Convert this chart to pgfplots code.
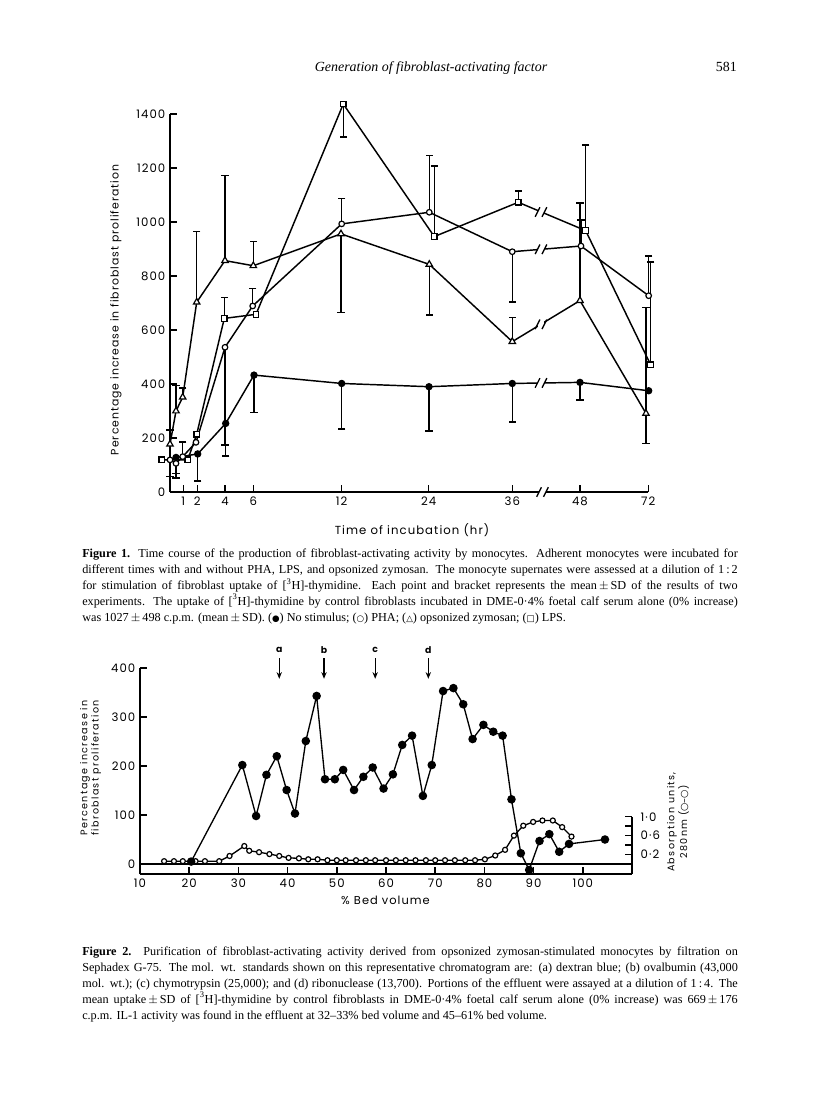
\documentclass[border=0pt]{standalone}
\usepackage{fontspec}
\setmainfont{Liberation Serif}
\newfontfamily\axf{Poppins}
\newfontfamily\axfa{Poppins}[LetterSpace=9.0]
\newfontfamily\axfb{Poppins}[LetterSpace=14.0]
\newfontfamily\symf{DejaVu Sans}
\usepackage{pgfplots}
\usepackage{pgfplotstable}
\pgfplotsset{compat=1.18}
\usetikzlibrary{arrows.meta}

% Figure 1 (x = position along the broken time axis; ticks carry the hours)
\pgfplotstableread{
x y
6 128
27.7 141
55.7 254
84 433
171.7 402
259 390
342.3 402
410 406
478.7 375
}\nostim
\pgfplotstableread{
x y
0 119
6 106
12.7 131
26 184
55 536
82.7 689
171.7 993
259.3 1036
342.3 890
411 911
478.7 727
}\pha
\pgfplotstableread{
x y
0 177
6 300
12.7 351
26.7 703
55 857
83.3 838
171 956
259.3 843
342.3 557
410 709
476 291
}\zym
\pgfplotstableread{
x y
-8.3 119
17.7 119
26.7 214
54.3 643
86 658
173.3 1437
264.3 946
348.3 1073
415.7 968
480.7 471
}\lps
% bracket ends (mean + SD or mean - SD as drawn)
\pgfplotstableread{
x y
12.7 186
82.7 754
171.7 1088
259.3 1246
411 1007
478.7 874
0 230
6 395
12.7 386
26.7 964
55 1172
83.3 927
342.3 646
410 1070
476 684
54.3 721
264.3 1207
348.3 1115
415.7 1285
480.7 851
6 68
27.7 41
55.7 134
84 294
171.7 233
259 226
342.3 260
410 341
0 57
6 52
55 174
342.3 703
171 664
259.3 656
476 180
173.3 1314
}\brackets
% Figure 2
\pgfplotstableread{
x y
20.4 5
30.8 202
33.6 98
35.7 182
37.8 220
39.8 151
41.5 103
43.7 251
45.9 343
47.6 173
49.6 173
51.3 192
53.5 151
55.4 178
57.3 197
59.5 154
61.4 183
63.3 243
65.3 262
67.5 139
69.3 202
71.6 353
73.7 359
75.7 326
77.6 255
79.8 284
81.8 270
83.7 262
85.5 132
87.4 22
89.1 -12
91.2 47
93.2 61
95.2 25
97.2 41
104.5 50
}\activity
\pgfplotstableread{
x y
14.9 0.06
16.9 0.06
18.7 0.06
20.6 0.06
21.3 0.06
23.2 0.06
26.1 0.06
28.2 0.17
31.2 0.38
32.2 0.28
34.2 0.25
36.3 0.21
38.3 0.17
40.2 0.13
42.3 0.12
44.2 0.10
46.1 0.10
48.1 0.08
50.0 0.08
51.8 0.08
53.9 0.08
55.9 0.08
57.8 0.08
60.0 0.08
62.0 0.08
64.0 0.08
66.0 0.08
68.1 0.08
70.0 0.08
72.0 0.08
74.0 0.08
76.1 0.08
78.1 0.08
80.1 0.10
82.2 0.18
84.2 0.30
86.0 0.60
87.9 0.81
89.9 0.89
91.8 0.92
93.9 0.92
95.8 0.78
97.7 0.58
}\absorb

\newcommand{\brk}[2]{%
 \fill[white] ([xshift=-2.6pt,yshift=-6pt]axis cs:#1,#2) rectangle ([xshift=2.6pt,yshift=6pt]axis cs:#1,#2);
 \draw[line width=1pt] ([xshift=-4.4pt,yshift=-3.6pt]axis cs:#1,#2) -- ([xshift=-0.8pt,yshift=3.6pt]axis cs:#1,#2);
 \draw[line width=1pt] ([xshift=0.8pt,yshift=-3.6pt]axis cs:#1,#2) -- ([xshift=4.4pt,yshift=3.6pt]axis cs:#1,#2);}
\newcommand{\marker}[2]{%
 \draw[line width=1pt, -{Stealth[length=5pt,width=4pt]}] (axis cs:#1,420) -- (axis cs:#1,378);
 \node[font=\axf\bfseries\fontsize{7}{8}\selectfont] at (axis cs:#1,436) {#2};}

\pgfplotsset{
 pagestyle/.style={scale only axis, clip=false, axis lines=left,
   axis line style={-, line width=1.1pt, black},
   tick align=inside, major tick length=5pt, minor tick length=5pt,
   tick style={line width=1.1pt, black},
   tick label style={font=\axfa\fontsize{8.8}{10}\selectfont},
   /pgf/number format/1000 sep={}, /pgf/number format/assume math mode=true},
 errs/.style={black, only marks, mark=*, mark size=0pt, forget plot, line width=1.1pt,
   error bars/y explicit,
   error bars/error bar style={black, line width=1.1pt, solid}},
}

\begin{document}
\begin{tikzpicture}[x=0.75bp,y=-0.75bp]
\fill[white] (0,0) rectangle (816,1117);
\useasboundingbox (0,0) rectangle (816,1117);

% header
\node[anchor=base, inner sep=0pt, font=\itshape\fontsize{10.5}{12}\selectfont] at (431,72) {Generation of fibroblast-activating factor};
\node[anchor=base east, inner sep=0pt, font=\fontsize{10.5}{12}\selectfont] at (737,72) {581};

% ---------------- Figure 1 ----------------
\begin{axis}[pagestyle, at={(127.5bp,-369bp)}, anchor=south west,
  width=358.7bp, height=283.5bp,
  xmin=0, xmax=478.3, ymin=0, ymax=1400,
  ytick={0,200,...,1400},
  xtick={13.3,27.3,55,83.3,171.7,258.7,342.3,410,478.3},
  xticklabels={1,2,4,6,12,24,36,48,72}]
 \addplot[errs, error bars/y dir=plus] coordinates {
  (12.7,131) += (0,55) (82.7,689) += (0,65) (171.7,993) += (0,95)
  (259.3,1036) += (0,210) (411,911) += (0,96) (478.7,727) += (0,147)
  (0,177) += (0,53) (6,300) += (0,95) (12.7,351) += (0,35)
  (26.7,703) += (0,261) (55,857) += (0,315) (83.3,838) += (0,89)
  (342.3,557) += (0,89) (410,709) += (0,361) (476,291) += (0,393)
  (54.3,643) += (0,78) (264.3,946) += (0,261) (348.3,1073) += (0,42)
  (415.7,968) += (0,317) (480.7,471) += (0,380)};
 \addplot[errs, error bars/y dir=minus] coordinates {
  (6,128) -= (0,60) (27.7,141) -= (0,100) (55.7,254) -= (0,120)
  (84,433) -= (0,139) (171.7,402) -= (0,169) (259,390) -= (0,164)
  (342.3,402) -= (0,142) (410,406) -= (0,65)
  (0,119) -= (0,62) (6,106) -= (0,54) (55,536) -= (0,362) (342.3,890) -= (0,187)
  (171,956) -= (0,292) (259.3,843) -= (0,187) (476,291) -= (0,111)
  (173.3,1437) -= (0,123)};
 \addplot[black, only marks, forget plot, mark=-, mark size=2.7pt, mark options={line width=1.1pt}] table {\brackets};
 \addplot[black, line width=1.1pt, mark=square*, mark size=2.1pt, mark options={solid, fill=white, line width=0.9pt}] table {\lps};
 \addplot[black, line width=1.1pt, mark=triangle*, mark size=2.8pt, mark options={solid, fill=white, line width=0.9pt}] table {\zym};
 \addplot[black, line width=1.1pt, mark=*, mark size=2.1pt, mark options={solid, fill=white, line width=0.9pt}] table {\pha};
 \addplot[black, line width=1.1pt, mark=*, mark size=2.2pt, mark options={solid, fill=black}] table {\nostim};
 \brk{371}{404}
 \brk{371}{899}
 \brk{371}{621}
 \brk{371}{1037}
 \brk{372.5}{0}
\end{axis}
\node[rotate=90, font=\axfa\fontsize{8.2}{10}\selectfont] at (116,310) {Percentage increase in fibroblast proliferation};
\node[font=\axfa\fontsize{8.8}{10}\selectfont] at (412,530) {Time of incubation (hr)};

% caption 1
\node[anchor=base west, inner sep=0pt, align=left, font=\fontsize{9.2}{12}\selectfont] at (82,621) {%
\makebox[493.5pt][s]{\textbf{Figure 1.} Time course of the production of fibroblast-activating activity by monocytes. Adherent monocytes were incubated for}\\
\makebox[493.5pt][s]{different times with and without PHA, LPS, and opsonized zymosan. The monocyte supernates were assessed at a dilution of 1\,:\,2}\\
\makebox[493.5pt][s]{for stimulation of fibroblast uptake of [\textsuperscript{3}H]-thymidine. Each point and bracket represents the mean\,$\pm$\,SD of the results of two}\\
\makebox[493.5pt][s]{experiments. The uptake of [\textsuperscript{3}H]-thymidine by control fibroblasts incubated in DME-0·4\% foetal calf serum alone (0\% increase)}\\
was 1027\,$\pm$\,498 c.p.m. (mean\,$\pm$\,SD). ({\symf\fontsize{6.5}{8}\selectfont ●}) No stimulus; ({\symf\fontsize{6.5}{8}\selectfont ○}) PHA; ({\symf\fontsize{6.5}{8}\selectfont △}) opsonized zymosan; ({\symf\fontsize{6.5}{8}\selectfont □}) LPS.};

% ---------------- Figure 2 ----------------
\begin{axis}[pagestyle, at={(105bp,-655.5bp)}, anchor=south west,
  width=369bp, height=154.5bp,
  xmin=10, xmax=110, ymin=-0.2114, ymax=4.144,
  axis x line=none, axis y line*=right, y axis line style={draw=none},
  ytick={0.2,0.6,1.0}, yticklabels={0·2,0·6,1·0}, minor ytick={0.4,0.8},
  yticklabel style={xshift=3pt}]
 \draw[line width=1.1pt] (axis cs:110,-0.2114) -- (axis cs:110,1.0);
 \addplot[black, line width=1pt, mark=*, mark size=1.9pt, mark options={solid, fill=white, line width=0.9pt}] table {\absorb};
\end{axis}
\begin{axis}[pagestyle, at={(105bp,-655.5bp)}, anchor=south west,
  width=369bp, height=154.5bp,
  xmin=10, xmax=110, ymin=-20.4, ymax=400,
  xtick={10,20,...,100}, ytick={0,100,...,400}]
 \draw[line width=0.8pt] (axis cs:10,0) -- (axis cs:110,0);
 \addplot[black, line width=1pt, mark=*, mark size=2.7pt, mark options={solid, fill=black}] table {\activity};
 \marker{38.3}{a}
 \marker{47.4}{b}
 \marker{57.8}{c}
 \marker{68.6}{d}
\end{axis}
\node[rotate=90, align=center, font=\axfb\fontsize{7.2}{7.4}\selectfont] at (90.5,768) {Percentage increase in\\fibroblast proliferation};
\node[rotate=90, align=center, font=\axfb\fontsize{7.2}{7.4}\selectfont] at (678,822) {Absorption units,\\280nm ({\symf ○–○})};
\node[font=\axfa\fontsize{8.6}{10}\selectfont] at (385.5,900) {\% Bed volume};

% caption 2
\node[anchor=base west, inner sep=0pt, align=left, font=\fontsize{9.2}{12}\selectfont] at (82,1019) {%
\makebox[493.5pt][s]{\textbf{Figure 2.} Purification of fibroblast-activating activity derived from opsonized zymosan-stimulated monocytes by filtration on}\\
\makebox[493.5pt][s]{Sephadex G-75. The mol. wt. standards shown on this representative chromatogram are: (a) dextran blue; (b) ovalbumin (43,000}\\
\makebox[493.5pt][s]{mol. wt.); (c) chymotrypsin (25,000); and (d) ribonuclease (13,700). Portions of the effluent were assayed at a dilution of 1\,:\,4. The}\\
\makebox[493.5pt][s]{mean uptake\,$\pm$\,SD of [\textsuperscript{3}H]-thymidine by control fibroblasts in DME-0·4\% foetal calf serum alone (0\% increase) was 669\,$\pm$\,176}\\
c.p.m. IL-1 activity was found in the effluent at 32--33\% bed volume and 45--61\% bed volume.};
\end{tikzpicture}
\end{document}
